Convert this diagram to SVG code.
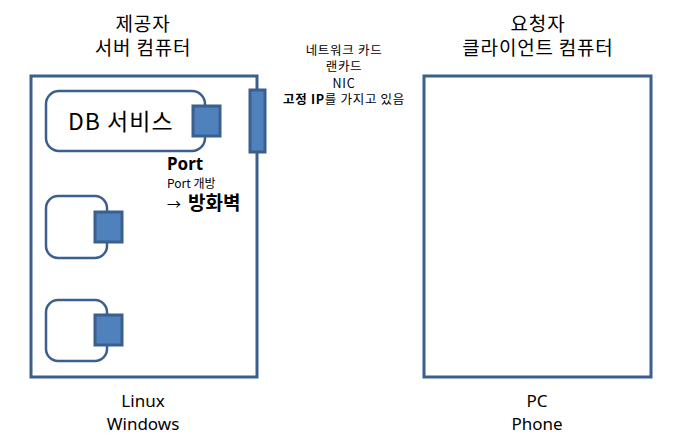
<svg xmlns="http://www.w3.org/2000/svg" width="680" height="446" viewBox="0 0 680 446">
<style>
text{font-family:"Noto Sans CJK KR","Noto Sans",sans-serif;fill:#000}
.lat{font-family:"Noto Sans","Noto Sans CJK KR",sans-serif}
.box{fill:#fff;stroke:#3B5F8E;stroke-width:3}
.svc{fill:#fff;stroke:#3B5F8E;stroke-width:2.5}
.port{fill:#4F81BD;stroke:#3B5F8E;stroke-width:3}
.t19{font-size:19px;text-anchor:middle;letter-spacing:0.8px}
.t17{font-size:17px;text-anchor:middle}
.t12{font-size:12.5px;text-anchor:middle;letter-spacing:0.7px}
</style>
<rect width="680" height="446" fill="#fff"/>
<g id="server">
<rect class="box" x="31" y="76" width="226" height="301"/>
<text class="t19"><tspan x="143" y="31">제공자</tspan><tspan x="143" y="55">서버 컴퓨터</tspan></text>
<text class="t17 lat"><tspan x="143" y="407">Linux</tspan><tspan x="143" y="430">Windows</tspan></text>
</g>
<g id="client">
<rect class="box" x="424" y="76" width="227" height="301"/>
<text class="t19"><tspan x="538" y="31">요청자</tspan><tspan x="538" y="55">클라이언트 컴퓨터</tspan></text>
<text class="t17 lat"><tspan x="537" y="407">PC</tspan><tspan x="537" y="430">Phone</tspan></text>
</g>
<g id="db-service">
<rect class="svc" x="46" y="91" width="159" height="60" rx="13"/>
<rect class="port" x="193" y="106" width="27" height="30"/>
<text x="68" y="130" style="font-size:23px;letter-spacing:1px">DB 서비스</text>
</g>
<g id="service2">
<rect class="svc" x="46" y="196" width="61" height="62" rx="12"/>
<rect class="port" x="95" y="212" width="27" height="30"/>
</g>
<g id="service3">
<rect class="svc" x="46" y="300" width="61" height="61" rx="12"/>
<rect class="port" x="95" y="315" width="27" height="30"/>
</g>
<g id="nic">
<rect class="port" x="250" y="90" width="15" height="62"/>
<text class="t12"><tspan x="344" y="55">네트워크 카드</tspan><tspan x="344" y="71">랜카드</tspan><tspan x="344" y="88">NIC</tspan><tspan x="344" y="104"><tspan font-weight="bold">고정 IP</tspan>를 가지고 있음</tspan></text>
</g>
<g id="port-label">
<text x="167" y="170"><tspan class="lat" style="font-size:17px;font-weight:bold">Port</tspan><tspan x="167" y="188" style="font-size:12px">Port 개방</tspan><tspan class="lat" x="167" y="209" style="font-size:14px">→</tspan><tspan x="188" y="210" style="font-size:19px;font-weight:bold">방화벽</tspan></text>
</g>
<g id="connectors"></g>
</svg>
